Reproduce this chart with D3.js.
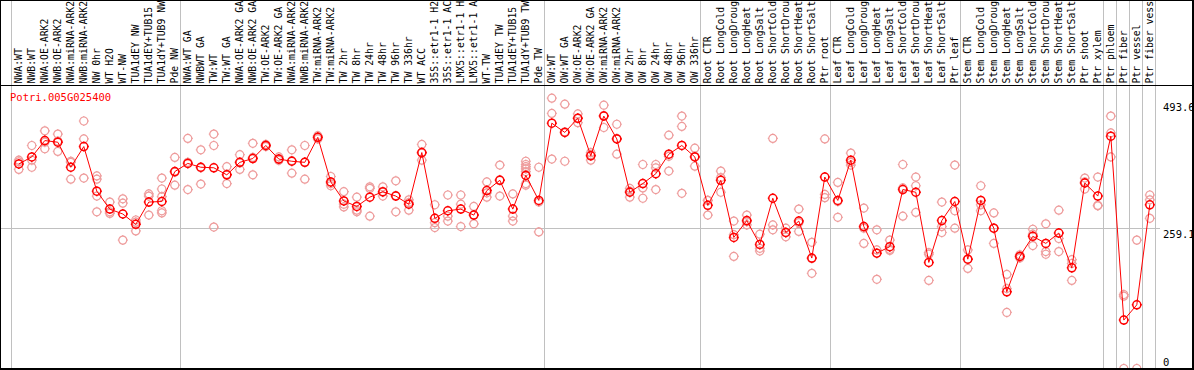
<!DOCTYPE html>
<html>
<head>
<meta charset="utf-8">
<script src="https://cdn.jsdelivr.net/npm/d3@7"></script>
<style>
body{margin:0;background:#fff}
text{font-family:"DejaVu Sans Mono",monospace;font-size:10px}
</style>
</head>
<body>
<svg id="svg1" width="1194" height="370"></svg>
<script>
var gene = "Potri.005G025400"

var labels = ["NWA:WT","NWB:WT","NWA:OE-ARK2","NWB:OE-ARK2","NWA:miRNA-ARK2","NWB:miRNA-ARK2","NW 0hr","WT H2O","WT-NW",
  "TUA1dEY NW","TUA1dEY+TUB15 NW","TUA1dY+TUB9 NW","Pde NW",
  "NWA:WT GA","NWBWT GA","TW:WT","TW:WT GA","NWA:OE-ARK2 GA","NWB:OE-ARK2 GA","TW:OE-ARK2","TW:OE-ARK2 GA",
  "NWA:miRNA-ARK2 GA","NWB:miRNA-ARK2 GA","TW:miRNA-ARK2","TW:miRNA-ARK2 GA","TW 2hr","TW 8hr","TW 24hr","TW 48hr","TW 96hr","TW 336hr",
  "WT ACC","35S::etr1-1 H2O","35S::etr1-1 ACC","LMX5::etr1-1 H2O","LMX5::etr1-1 ACC","WT-TW","TUA1dEY TW","TUA1dEY+TUB15 TW","TUA1dY+TUB9 TW","Pde TW",
  "OW:WT","OW:WT GA","OW:OE-ARK2","OW:OE-ARK2 GA","OW:miRNA-ARK2","OW:miRNA-ARK2 GA","OW 2hr","OW 8hr","OW 24hr","OW 48hr","OW 96hr","OW 336hr",
  "Root CTR","Root LongCold","Root LongDrought","Root LongHeat","Root LongSalt","Root ShortCold","Root ShortDrought","Root ShortHeat","Root ShortSalt","Ptr root",
  "Leaf CTR","Leaf LongCold","Leaf LongDrought","Leaf LongHeat","Leaf LongSalt","Leaf ShortCold","Leaf ShortDrought","Leaf ShortHeat","Leaf ShortSalt","Ptr leaf",
  "Stem CTR","Stem LongCold","Stem LongDrought","Stem LongHeat","Stem LongSalt","Stem ShortCold","Stem ShortDrought","Stem ShortHeat","Stem ShortSalt","Ptr shoot",
  "Ptr xylem","Ptr phloem","Ptr fiber","Ptr vessel","Ptr fiber vessel"]

var means = [376,389,419,416,370,408,326,293,284,265,
  306,307,362,377,370,369,356,379,386,410,
  385,381,379,425,343,308,298,315,325,317,
  302,397,276,290,293,282,327,346,293,355,
  309,451,434,460,391,464,422,324,340,358,
  394,410,389,300,346,241,272,228,313,250,
  271,203,352,309,383,261,212,224,329,324,
  195,272,307,201,309,258,141,206,243,230,
  249,185,341,317,427,89,117,301]

var reps = [[383,366,380],[410,383,370],[437,404,416],[431,399,418],[381,348,379],[455,422,350],[354,348,317,288],[306,285,288],[304,236,312],[273,253,269],
  [321,317,282],[350,330,316,290,286],[388,337,361],[423,329,379],[402,339,369],[431,410,260],[371,340,357],[393,366,378],[414,356,388],[412,410,408],
  [389,383,383],[402,359,382],[410,348,379],[428,425,422],[353,336,340],[325,297,302],[315,288,291],[334,280,331],[334,317,324],[345,288,318],
  [310,291,305],[412,383,396],[301,259,268],[319,271,280],[319,302,261],[298,266,282],[343,315,323],[374,317,347],[321,280,271],[381,375,371,367,362,340,337],
  [370,251,306],[497,469,385],[486,381,435],[468,460,452],[397,383,393],[484,443,465],[449,394,423],[331,315,326],[375,332,313],[375,369,329],
  [429,363,390],[464,445,322],[405,372,390],[309,282,309],[363,324,351],[271,206,246],[282,264,270],[247,216,221],[423,264,255],[258,242,250],
  [293,252,268],[232,175,202],[422,320,314],[342,278,307],[396,379,374],[295,230,258],[255,218,164],[236,217,219],[375,280,332],[352,336,287],
  [213,162,210],[306,261,250],[374,290,258],[218,184,201],[336,290,301],[286,230,258],[173,147,103],[209,206,203],[256,226,247],[266,215,210],
  [291,239,215],[200,162,193],[350,330,343],[352,299,300],[464,433,389],[136,133,0],[236,0],[319,310,276]]

// group boundaries (index of first column of each group, plus end)
var groupStarts = [0,13,41,53,63,73,84,85,86,87,88]
var yTicks = [0, 259.1, 493.6]
var yMax = 493.6
var maxChars = 14

var svg = d3.select("#svg1")
var x = d3.scaleLinear().domain([0, labels.length-1]).range([18.8, 18.8+13*(labels.length-1)])
var y = d3.scaleLinear().domain([0, yMax]).range([368.5, 100])

var defs = svg.append("defs")
defs.append("clipPath").attr("id","pclip").append("rect").attr("x",2).attr("y",86).attr("width",1190).attr("height",283)

// separators
svg.selectAll("line.sep").data(groupStarts).enter().append("line")
  .attr("class","sep")
  .attr("x1",function(k){return Math.round(x(k-0.5)-1)+0.5})
  .attr("x2",function(k){return Math.round(x(k-0.5)-1)+0.5})
  .attr("y1",0).attr("y2",369)
  .attr("stroke","#c0c0c0").attr("stroke-width",1)

// horizontal grid at middle tick
svg.append("line")
  .attr("x1",0).attr("x2",1160)
  .attr("y1",Math.round(y(yTicks[1]))+0.5).attr("y2",Math.round(y(yTicks[1]))+0.5)
  .attr("stroke","#c0c0c0")

// header line
svg.append("line").attr("x1",0).attr("x2",1194).attr("y1",85.5).attr("y2",85.5).attr("stroke","black")

// column labels (header only has room for 14 characters)
svg.append("g")
  .selectAll("text").data(labels).enter().append("text")
  .attr("transform",function(d,i){return "translate("+(x(i)+3)+",83.5) rotate(-90)"})
  .style("font-size","9.8px")
  .attr("fill","black")
  .text(function(d){return d.slice(0,maxChars)})

// gene name
svg.append("text").attr("x",10).attr("y",101).attr("fill","red").style("font-size","10.5px").text(gene)

// y tick labels
svg.selectAll("text.yt").data(yTicks).enter().append("text")
  .attr("class","yt")
  .attr("x",1163)
  .attr("y",function(d){return Math.min(y(d)+10.5, 366)})
  .attr("fill","black")
  .style("font-size","10.5px")
  .text(function(d){return d})

var plot = svg.append("g").attr("clip-path","url(#pclip)")

function markers(g, data, color, sw){
  var m = g.selectAll("g.m").data(data).enter().append("g")
    .attr("transform",function(d){return "translate("+x(d.i)+","+y(d.v)+")"})
  m.append("circle").attr("r",4).attr("fill","none").attr("stroke",color).attr("stroke-width",sw)
  var t = [[0,-4,0,-5],[0,4,0,5],[-4,0,-5,0],[4,0,5,0]]
  t.forEach(function(s){
    m.append("line").attr("x1",s[0]).attr("y1",s[1]).attr("x2",s[2]).attr("y2",s[3])
      .attr("stroke",color).attr("stroke-width",sw)
  })
}

var repPts = []
reps.forEach(function(r,i){ r.forEach(function(v){ repPts.push({i:i,v:v}) }) })
markers(plot.append("g"), repPts, "#ee9c9c", 1.2)

plot.append("path")
  .datum(means)
  .attr("d", d3.line().x(function(d,i){return x(i)}).y(function(d){return y(d)}))
  .attr("fill","none").attr("stroke","red").attr("stroke-width",1)

markers(plot.append("g"), means.map(function(v,i){return {i:i,v:v}}), "red", 1.5)

// frame
svg.append("rect").attr("x",0).attr("y",0).attr("width",1193).attr("height",369)
  .attr("fill","none").attr("stroke","black").attr("stroke-width",2)
</script>
</body>
</html>
